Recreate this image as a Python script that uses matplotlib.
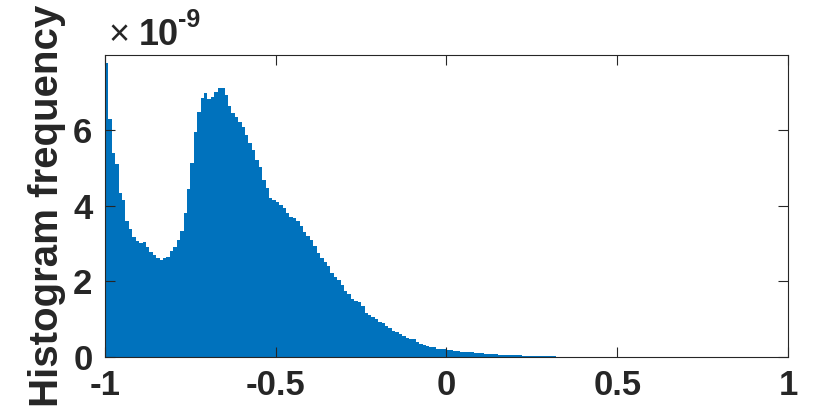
import numpy as np
import matplotlib
matplotlib.use("Agg")
import matplotlib.pyplot as plt

plt.rcParams['font.family'] = ['Liberation Sans', 'DejaVu Sans']
plt.rcParams['axes.unicode_minus'] = False

# histogram bin width and range (x axis)
bin_width = 0.01
x_start = -1.0

# bin heights in units of 1e-9 (bins of 0.01 starting at -1)
freq = [
    7.8, 6.3, 5.4, 5.1, 4.35, 4.15, 3.6, 3.4, 3.18, 3.07,
    3.02, 3.04, 2.92, 2.77, 2.71, 2.63, 2.58, 2.61, 2.65, 2.8,
    2.91, 3.1, 3.33, 3.82, 4.45, 5.14, 5.95, 6.5, 6.86, 6.99,
    6.83, 6.88, 7.02, 7.13, 7.12, 6.95, 6.65, 6.47, 6.36, 6.22,
    6.08, 5.87, 5.68, 5.48, 5.22, 5.02, 4.7, 4.47, 4.22, 4.16,
    4.1, 4.03, 3.95, 3.82, 3.71, 3.69, 3.61, 3.48, 3.3, 3.2,
    3.1, 2.93, 2.76, 2.63, 2.52, 2.42, 2.22, 2.12, 2.05, 1.9,
    1.76, 1.66, 1.53, 1.48, 1.45, 1.35, 1.17, 1.12, 1.05, 1.0,
    0.94, 0.91, 0.82, 0.77, 0.7, 0.65, 0.6, 0.55, 0.51, 0.47,
    0.48, 0.39, 0.35, 0.32, 0.3, 0.27, 0.26, 0.22, 0.2, 0.2,
    0.19, 0.18, 0.17, 0.155, 0.145, 0.14, 0.13, 0.12, 0.11, 0.1,
    0.095, 0.09, 0.08, 0.075, 0.07, 0.065, 0.06, 0.055, 0.05, 0.048,
    0.045, 0.04, 0.037, 0.034, 0.03, 0.028, 0.025, 0.022, 0.02, 0.018,
    0.016, 0.014, 0.012, 0.011, 0.01, 0.009, 0.008, 0.007, 0.006, 0.006,
    0.005, 0.004, 0.004, 0.003, 0.003, 0.002, 0.002, 0.002, 0.001, 0.001,
]

x_ticks = [-1, -0.5, 0, 0.5, 1]
x_tick_labels = ["-1", "-0.5", "0", "0.5", "1"]
y_ticks = [0, 2, 4, 6]
y_tick_labels = ["0", "2", "4", "6"]

ink = "#262626"
blue = "#0072BD"


def main():
    fig = plt.figure(figsize=(8.3, 4.11), dpi=100)
    ax = fig.add_axes([0.1265, 0.1314, 0.8229, 0.7348])

    left_edges = x_start + bin_width * np.arange(len(freq))
    ax.bar(left_edges, freq, width=bin_width, align='edge', color=blue, linewidth=0)

    ax.set_xlim(-1, 1)
    ax.set_ylim(0, 8)
    ax.set_xticks(x_ticks)
    ax.set_xticklabels(x_tick_labels)
    ax.set_yticks(y_ticks)
    ax.set_yticklabels(y_tick_labels)

    ax.tick_params(direction='in', length=7, width=0.8, colors=ink,
                   top=True, right=True, labelsize=25)
    ax.tick_params(axis='x', pad=9)
    ax.tick_params(axis='y', pad=9)
    for lbl in ax.get_xticklabels() + ax.get_yticklabels():
        lbl.set_fontweight('bold')
    for sp in ax.spines.values():
        sp.set_color(ink)
        sp.set_linewidth(0.8)

    ax.set_ylabel("Histogram frequency", fontsize=29, fontweight='bold',
                  color=ink, labelpad=5)

    # exponent label like MATLAB's axis multiplier
    fig.text(108 / 830, 1 - 45 / 411, "×", fontsize=26, color=ink,
             ha='left', va='baseline')
    fig.text(139 / 830, 1 - 45 / 411, "10", fontsize=26, fontweight='bold',
             color=ink, ha='left', va='baseline')
    fig.text(178 / 830, 1 - 27 / 411, "-9", fontsize=18, fontweight='bold',
             color=ink, ha='left', va='baseline')

    fig.savefig("out.png", dpi=100)
    plt.close(fig)


if __name__ == "__main__":
    main()
